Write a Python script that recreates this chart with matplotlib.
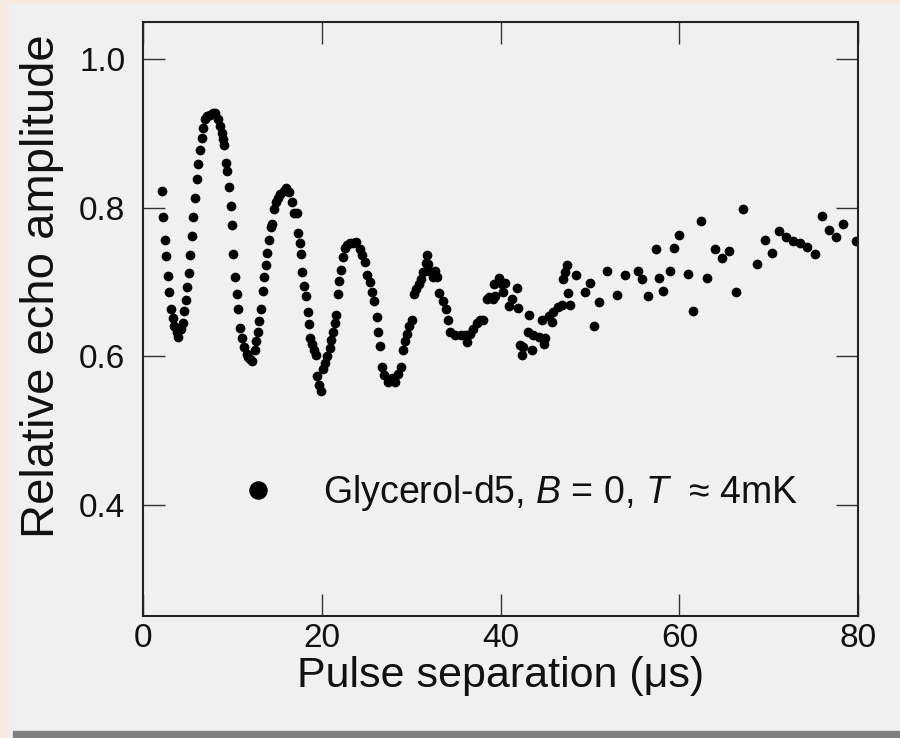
"""
Spin echo amplitude vs pulse separation (glycerol-d5)
"""

import matplotlib
matplotlib.use('Agg')
import matplotlib.pyplot as plt
from matplotlib.patches import Rectangle

# pulse separation (us) and relative echo amplitude
pulse_sep = [
    2.04, 2.22, 2.41, 2.52, 2.71, 2.89, 3.08, 3.27, 3.45, 3.72,
    3.90, 4.20, 4.39, 4.57, 4.73, 4.90, 5.09, 5.24, 5.40, 5.58,
    5.77, 5.96, 6.14, 6.29, 6.52, 6.70, 6.89, 7.14, 7.45, 7.75,
    8.01, 8.31, 8.57, 8.76, 8.94, 9.04, 9.24, 9.38, 9.57, 9.76,
    9.94, 10.05, 10.25, 10.44, 10.61, 10.81, 11.06, 11.29, 11.56, 11.73,
    11.92, 12.17, 12.45, 12.60, 12.79, 12.97, 13.16, 13.35, 13.49, 13.68,
    13.86, 14.09, 14.24, 14.44, 14.61, 14.84, 15.04, 15.34, 15.68, 15.96,
    16.35, 16.63, 16.82, 17.15, 17.33, 17.52, 17.67, 17.80, 17.97, 18.20,
    18.39, 18.55, 18.69, 18.87, 19.09, 19.32, 19.40, 19.68, 19.84, 20.08,
    20.38, 20.60, 20.83, 21.02, 21.22, 21.41, 21.59, 21.78, 21.92, 22.09,
    22.30, 22.56, 22.84, 23.12, 23.46, 23.79, 24.19, 24.52, 24.86, 25.08,
    25.31, 25.55, 25.84, 26.11, 26.29, 26.48, 26.67, 26.98, 27.34, 27.79,
    28.16, 28.53, 28.83, 29.09, 29.28, 29.54, 29.76, 30.03, 30.32, 30.51,
    30.85, 31.07, 31.33, 31.63, 31.71, 31.89, 32.02, 32.45, 32.67, 32.86,
    33.11, 33.59, 33.91, 34.15, 34.37, 34.93, 35.53, 36.00, 36.19, 36.56,
    36.93, 37.31, 37.73, 38.05, 38.43, 38.74, 39.17, 39.21, 39.36, 39.78,
    40.11, 40.29, 40.48, 40.98, 41.26, 41.79, 41.97, 42.16, 42.35, 42.53,
    43.09, 43.20, 43.47, 43.65, 44.34, 44.59, 44.90, 45.01, 45.40, 45.76,
    45.89, 46.45, 46.86, 47.01, 47.19, 47.45, 47.56, 47.72, 48.48, 49.44,
    49.99, 50.48, 50.95, 51.90, 52.98, 53.95, 55.34, 55.78, 56.54, 57.36,
    57.75, 58.17, 58.95, 59.40, 59.98, 60.97, 61.56, 62.39, 63.15, 63.96,
    64.77, 65.56, 66.34, 67.16, 68.73, 69.59, 70.37, 71.18, 71.94, 72.72,
    73.51, 74.33, 75.17, 75.97, 76.76, 77.54, 78.36, 79.83,
]
echo_amp = [
    0.823, 0.787, 0.757, 0.735, 0.708, 0.687, 0.664, 0.652, 0.641, 0.632,
    0.626, 0.637, 0.645, 0.661, 0.675, 0.693, 0.712, 0.736, 0.762, 0.788,
    0.813, 0.838, 0.859, 0.878, 0.894, 0.907, 0.919, 0.924, 0.925, 0.927,
    0.928, 0.919, 0.910, 0.901, 0.893, 0.884, 0.860, 0.849, 0.828, 0.802,
    0.777, 0.737, 0.707, 0.683, 0.663, 0.638, 0.624, 0.612, 0.603, 0.599,
    0.596, 0.594, 0.608, 0.620, 0.633, 0.647, 0.663, 0.688, 0.706, 0.723,
    0.739, 0.757, 0.774, 0.778, 0.798, 0.807, 0.813, 0.819, 0.823, 0.826,
    0.821, 0.807, 0.793, 0.793, 0.766, 0.753, 0.737, 0.713, 0.695, 0.681,
    0.659, 0.643, 0.625, 0.616, 0.608, 0.602, 0.573, 0.561, 0.553, 0.582,
    0.591, 0.600, 0.611, 0.622, 0.632, 0.645, 0.655, 0.684, 0.701, 0.716,
    0.734, 0.745, 0.750, 0.752, 0.753, 0.754, 0.744, 0.736, 0.727, 0.709,
    0.700, 0.686, 0.674, 0.653, 0.633, 0.613, 0.586, 0.575, 0.565, 0.570,
    0.565, 0.576, 0.585, 0.608, 0.621, 0.630, 0.641, 0.648, 0.684, 0.690,
    0.697, 0.704, 0.713, 0.726, 0.736, 0.724, 0.715, 0.706, 0.715, 0.707,
    0.685, 0.674, 0.663, 0.648, 0.632, 0.629, 0.629, 0.628, 0.619, 0.630,
    0.637, 0.645, 0.648, 0.649, 0.677, 0.679, 0.677, 0.697, 0.681, 0.705,
    0.697, 0.686, 0.699, 0.668, 0.677, 0.692, 0.665, 0.615, 0.602, 0.612,
    0.633, 0.655, 0.608, 0.629, 0.626, 0.649, 0.617, 0.624, 0.654, 0.646,
    0.659, 0.666, 0.669, 0.704, 0.713, 0.723, 0.685, 0.669, 0.709, 0.686,
    0.698, 0.641, 0.673, 0.715, 0.682, 0.709, 0.715, 0.704, 0.681, 0.744,
    0.705, 0.688, 0.715, 0.746, 0.763, 0.710, 0.661, 0.782, 0.705, 0.744,
    0.732, 0.742, 0.686, 0.798, 0.724, 0.757, 0.739, 0.769, 0.761, 0.755,
    0.752, 0.747, 0.737, 0.789, 0.770, 0.761, 0.778, 0.755,
]
assert len(pulse_sep) == len(echo_amp)

x_ticks = [0, 20, 40, 60, 80]
y_ticks = [0.4, 0.6, 0.8, 1.0]
series_label = 'Glycerol-d5, $B$ = 0, $T$  \u2248 4mK'

plt.rcParams['font.family'] = ['Liberation Sans', 'DejaVu Sans']
plt.rcParams['mathtext.fontset'] = 'custom'
plt.rcParams['mathtext.rm'] = 'Liberation Sans'
plt.rcParams['mathtext.it'] = 'Liberation Sans:italic'

bg = '#f0f0f0'
fig = plt.figure(figsize=(9, 7.38), dpi=100, facecolor=bg)
ax = fig.add_axes([0.1594, 0.1653, 0.7939, 0.8049], facecolor=bg)

# page decoration around the scanned figure
fig.patches.append(Rectangle((0, 0), 0.008, 1, transform=fig.transFigure,
                             color='#f5eadf', zorder=0))
fig.patches.append(Rectangle((0, 0.996), 1, 0.004, transform=fig.transFigure,
                             color='#f5eadf', zorder=0))
fig.patches.append(Rectangle((0.0144, 0), 0.99, 0.0095, transform=fig.transFigure,
                             color='#808080', zorder=1))

ax.plot(pulse_sep, echo_amp, 'o', color='black', markersize=7,
        markeredgewidth=0, label=series_label)

ax.set_xlim(0, 80)
ax.set_ylim(0.25, 1.05)
ax.set_xticks(x_ticks)
ax.set_yticks(y_ticks)
ax.set_xticklabels([str(t) for t in x_ticks])
ax.set_yticklabels([f'{t:.1f}' for t in y_ticks])

for s in ax.spines.values():
    s.set_linewidth(1.5)
    s.set_color('#222222')
ax.tick_params(direction='in', length=16, width=1.0, color='#333333',
               top=True, right=True, labelsize=24, labelcolor='#111111')
ax.tick_params(axis='x', pad=5)
ax.tick_params(axis='y', pad=13)

ax.set_xlabel('Pulse separation (\u03bcs)', fontsize=31, color='#111111')
ax.set_ylabel('Relative echo amplitude', fontsize=34, color='#111111')
ax.xaxis.set_label_coords(0.5, -0.068)
ax.yaxis.set_label_coords(-0.111, 0.555)

ax.legend(loc='center left', bbox_to_anchor=(0.134, 0.207), frameon=False,
          fontsize=27, markerscale=1.9, handlelength=1.0, handletextpad=1.23,
          borderpad=0, borderaxespad=0, labelcolor='#111111')

fig.savefig('out.png', dpi=100, facecolor=bg)
